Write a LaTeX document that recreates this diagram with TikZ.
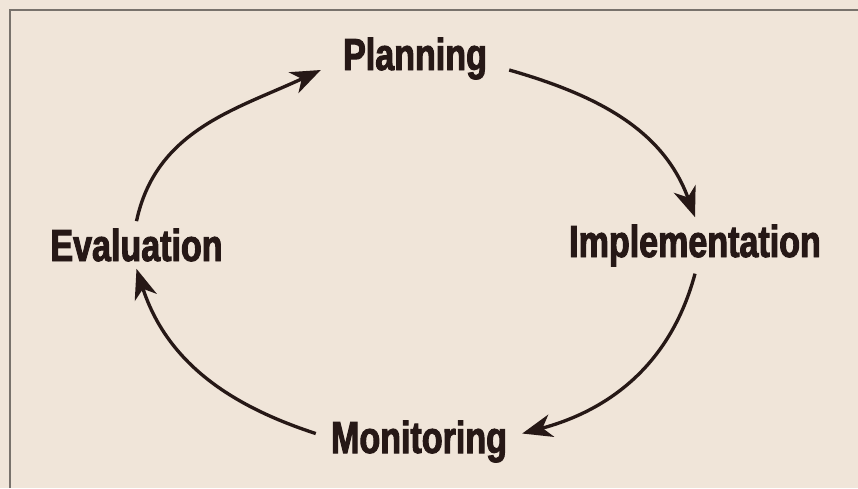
\documentclass[tikz,border=0pt]{standalone}
\usepackage{fontspec}
\newfontfamily\stagefont[FakeStretch = 0.76, FakeBold = 2.2]{Liberation Sans}
\usetikzlibrary{arrows.meta}
\definecolor{paper}{RGB}{240,229,217}
\definecolor{ink}{RGB}{38,24,22}
\definecolor{rule}{RGB}{120,114,108}

\begin{document}
\begin{tikzpicture}[x = 0.02cm, y = 0.02cm]
\tikzstyle{StageStyle}=[font = \stagefont\bfseries\fontsize{25.5}{30}\selectfont,
                        text = ink,
                        inner sep = 4pt,
                        anchor = base]
\tikzstyle{CycleStyle}=[draw = ink,
                        line width = 1.9pt,
                        -{Stealth[length = 6mm, width = 4.6mm, inset = 1.8mm]}]
\fill[paper] (0,0) rectangle (858,488);
\useasboundingbox (0,0) rectangle (858,488);
\draw[rule, line width = 1pt] (10,0) -- (10,478) -- (858,478);
\node[StageStyle, inner xsep = 12.5pt] (plan) at (415,418) {Planning};
\node[StageStyle] (impl) at (695,231) {Implementation};
\node[StageStyle, inner xsep = 8.5pt] (mon) at (419,35) {Monitoring};
\node[StageStyle] (eval) at (136.5,227) {Evaluation};
\draw[CycleStyle] (eval.north) to[out = 78, in = 205] (plan.base west);
\draw[CycleStyle] (plan.base east) to[out = -16, in = 110] (impl.north);
\draw[CycleStyle] (impl.south) to[out = -105, in = 15] ([yshift = 0.16cm]mon.east);
\draw[CycleStyle] ([yshift = 0.16cm]mon.west) to[out = 162, in = -72] (eval.south);
\end{tikzpicture}
\end{document}
